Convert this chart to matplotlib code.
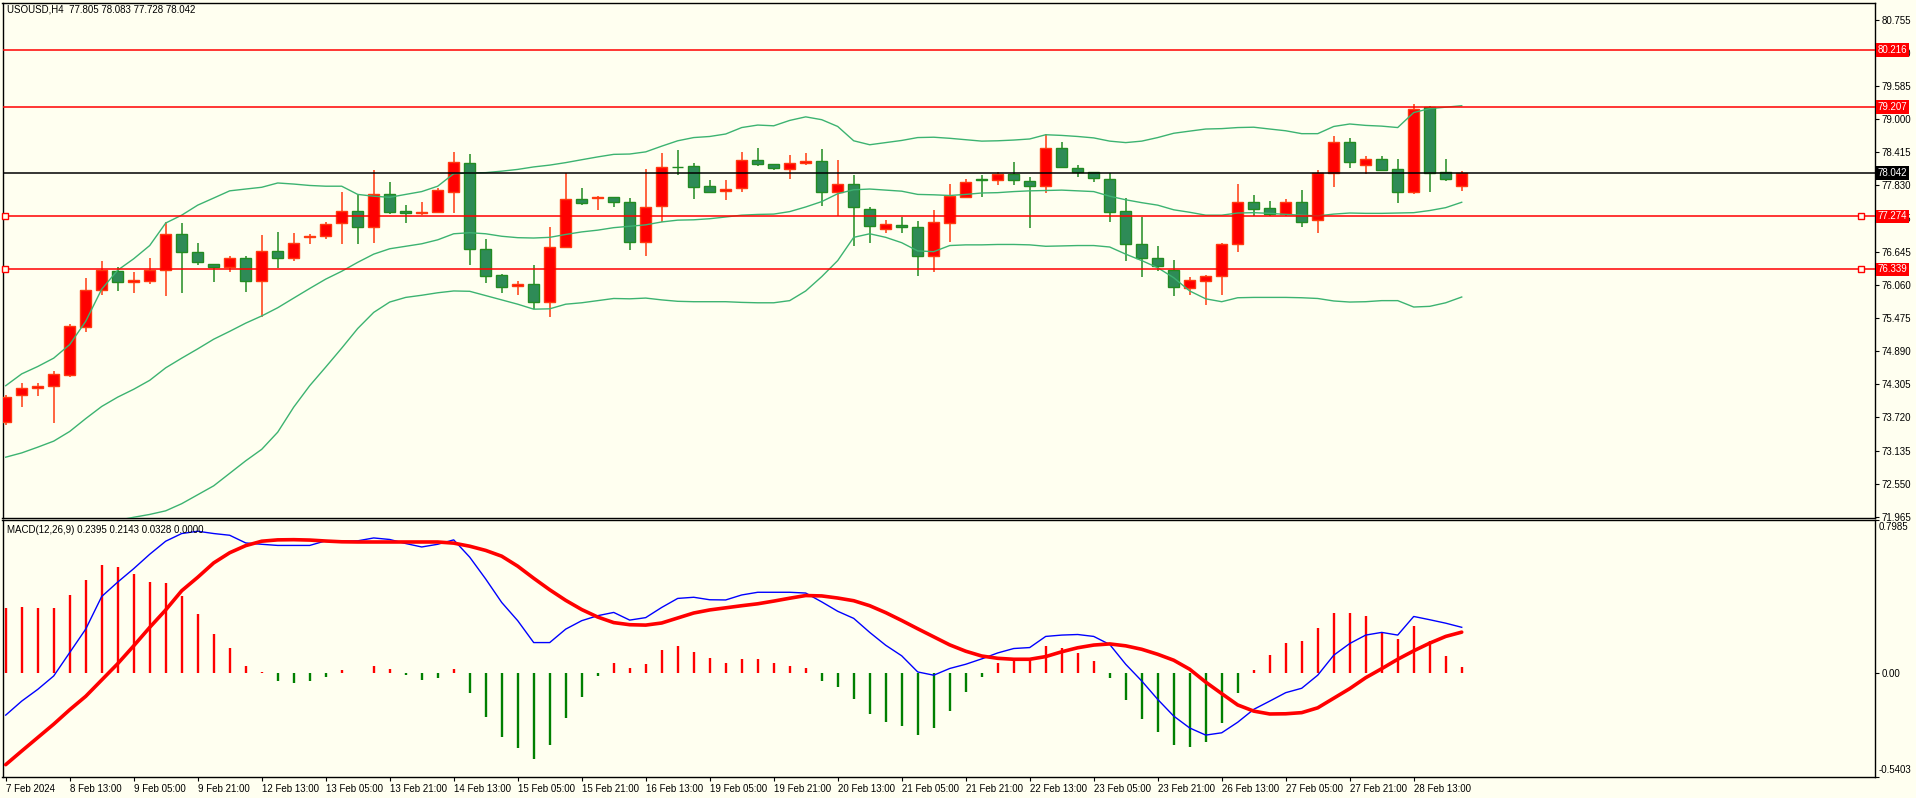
import matplotlib
matplotlib.use("Agg")
import matplotlib.pyplot as plt
import matplotlib.transforms as mtransforms
import numpy as np

plt.rcParams['font.family'] = ['Liberation Sans', 'DejaVu Sans']

# ---------------- data ----------------
opens = [73.636, 74.110, 74.237, 74.268, 74.471, 75.324, 75.969, 76.304, 76.114, 76.139,
         76.335, 76.961, 76.639, 76.430, 76.380, 76.544, 76.139, 76.658, 76.538, 76.911,
         76.923, 77.157, 77.378, 77.087, 77.663, 77.378, 77.328, 77.359, 77.713, 78.219,
         76.696, 76.240, 76.051, 76.076, 75.766, 76.734, 77.581, 77.593, 77.612, 77.524,
         76.828, 77.454, 78.156, 78.168, 77.814, 77.720, 77.777, 78.270, 78.200, 78.112,
         78.219, 78.251, 77.713, 77.846, 77.404, 77.050, 77.125, 77.087, 76.569, 77.157,
         77.618, 77.935, 77.916, 78.023, 77.897, 77.808, 78.484, 78.130, 78.055, 77.935,
         77.366, 76.778, 76.538, 76.329, 76.007, 76.133, 76.215, 76.784, 77.524, 77.423,
         77.315, 77.524, 77.208, 78.042, 78.586, 78.181, 78.289, 78.118, 77.707, 79.211,
         78.055, 77.805]
highs = [74.120, 74.332, 74.332, 74.534, 75.374, 76.190, 76.493, 76.380, 76.285, 76.544,
         77.176, 77.157, 76.809, 76.430, 76.569, 76.569, 76.948, 77.000, 76.986, 76.967,
         77.176, 77.707, 77.656, 78.093, 77.884, 77.473, 77.524, 77.777, 78.409, 78.377,
         76.873, 76.259, 76.133, 76.418, 77.087, 78.042, 77.770, 77.637, 77.612, 77.599,
         78.118, 78.390, 78.453, 78.219, 77.922, 77.922, 78.409, 78.491, 78.200, 78.358,
         78.402, 78.472, 78.270, 78.010, 77.441, 77.214, 77.271, 77.189, 77.385, 77.852,
         77.941, 78.010, 78.061, 78.232, 77.972, 78.725, 78.592, 78.187, 78.055, 78.042,
         77.593, 77.271, 76.746, 76.500, 76.203, 76.240, 76.809, 77.852, 77.656, 77.549,
         77.587, 77.745, 78.093, 78.699, 78.668, 78.345, 78.345, 78.295, 79.262, 79.230,
         78.295, 78.083]
lows = [73.585, 73.902, 74.091, 73.630, 74.439, 75.229, 75.893, 75.956, 75.912, 76.082,
        75.874, 75.912, 76.418, 76.114, 76.285, 75.943, 75.495, 76.354, 76.493, 76.778,
        76.873, 76.778, 76.778, 76.797, 77.315, 77.151, 77.302, 77.328, 77.328, 76.418,
        76.101, 75.912, 75.893, 75.640, 75.501, 76.734, 77.479, 77.391, 77.441, 76.683,
        76.575, 77.176, 77.998, 77.587, 77.694, 77.568, 77.713, 78.168, 78.086, 77.928,
        78.181, 77.460, 77.277, 76.759, 76.797, 76.986, 76.986, 76.228, 76.291, 76.822,
        77.618, 77.625, 77.821, 77.821, 77.062, 77.694, 78.149, 77.979, 77.878, 77.170,
        76.493, 76.209, 76.304, 75.868, 75.893, 75.716, 75.893, 76.645, 77.283, 77.290,
        77.277, 77.081, 76.974, 77.789, 78.124, 78.017, 78.086, 77.505, 77.663, 77.713,
        77.897, 77.728]
closes = [74.079, 74.237, 74.268, 74.483, 75.337, 75.969, 76.335, 76.114, 76.146, 76.335,
          76.961, 76.639, 76.474, 76.380, 76.544, 76.139, 76.658, 76.538, 76.803, 76.936,
          77.138, 77.378, 77.087, 77.663, 77.359, 77.328, 77.347, 77.739, 78.232, 76.696,
          76.228, 76.032, 76.082, 75.754, 76.734, 77.581, 77.505, 77.618, 77.524, 76.828,
          77.441, 78.149, 78.143, 77.802, 77.713, 77.758, 78.270, 78.194, 78.124, 78.219,
          78.251, 77.713, 77.846, 77.441, 77.100, 77.138, 77.087, 76.569, 77.176, 77.631,
          77.878, 77.909, 78.023, 77.909, 77.808, 78.484, 78.149, 78.067, 77.953, 77.359,
          76.778, 76.531, 76.405, 76.026, 76.146, 76.215, 76.784, 77.524, 77.404, 77.315,
          77.524, 77.182, 78.042, 78.586, 78.232, 78.289, 78.086, 77.713, 79.180, 78.036,
          77.928, 78.042]

bb_upper = [74.281, 74.490, 74.620, 74.768, 75.008, 75.419, 75.988, 76.323, 76.525, 76.759,
            77.157, 77.296, 77.473, 77.599, 77.726, 77.758, 77.789, 77.865, 77.846, 77.821,
            77.808, 77.808, 77.663, 77.631, 77.612, 77.663, 77.713, 77.808, 78.029, 78.042,
            78.048, 78.074, 78.105, 78.149, 78.181, 78.225, 78.276, 78.326, 78.371, 78.377,
            78.415, 78.516, 78.611, 78.668, 78.687, 78.731, 78.845, 78.889, 78.876, 78.971,
            79.034, 78.984, 78.864, 78.611, 78.541, 78.579, 78.617, 78.668, 78.674, 78.655,
            78.630, 78.605, 78.611, 78.624, 78.643, 78.718, 78.706, 78.687, 78.662, 78.605,
            78.579, 78.605, 78.668, 78.744, 78.782, 78.819, 78.826, 78.845, 78.851, 78.819,
            78.788, 78.737, 78.737, 78.864, 78.908, 78.883, 78.870, 78.845, 79.110, 79.180,
            79.205, 79.231]
bb_middle = [73.017, 73.093, 73.194, 73.301, 73.472, 73.699, 73.914, 74.079, 74.218, 74.376,
             74.597, 74.768, 74.932, 75.103, 75.242, 75.387, 75.514, 75.659, 75.830, 76.000,
             76.165, 76.304, 76.462, 76.607, 76.702, 76.746, 76.790, 76.860, 76.967, 76.986,
             76.967, 76.923, 76.898, 76.892, 76.904, 76.955, 77.000, 77.031, 77.075, 77.100,
             77.125, 77.176, 77.208, 77.214, 77.233, 77.264, 77.296, 77.309, 77.315, 77.359,
             77.441, 77.536, 77.675, 77.745, 77.758, 77.739, 77.720, 77.663, 77.656, 77.644,
             77.663, 77.688, 77.694, 77.713, 77.726, 77.732, 77.739, 77.726, 77.713, 77.631,
             77.568, 77.517, 77.473, 77.391, 77.347, 77.296, 77.296, 77.334, 77.340, 77.328,
             77.309, 77.296, 77.283, 77.315, 77.334, 77.328, 77.328, 77.334, 77.340, 77.378,
             77.429, 77.524]
nan = float('nan')
bb_lower = [nan, nan, nan, nan, nan, nan, nan, 71.900, 71.955, 72.005,
            72.069, 72.195, 72.353, 72.511, 72.732, 72.953, 73.156, 73.459, 73.902, 74.281,
            74.610, 74.945, 75.292, 75.577, 75.760, 75.842, 75.880, 75.924, 75.956, 75.950,
            75.874, 75.798, 75.722, 75.634, 75.640, 75.722, 75.747, 75.785, 75.823, 75.817,
            75.830, 75.798, 75.773, 75.766, 75.766, 75.766, 75.754, 75.747, 75.747, 75.785,
            75.956, 76.209, 76.493, 76.904, 76.967, 76.904, 76.809, 76.664, 76.651, 76.759,
            76.771, 76.771, 76.778, 76.778, 76.771, 76.746, 76.752, 76.759, 76.759, 76.733,
            76.607, 76.493, 76.367, 76.190, 75.956, 75.817, 75.766, 75.836, 75.842, 75.842,
            75.842, 75.836, 75.823, 75.779, 75.760, 75.766, 75.785, 75.785, 75.672, 75.684,
            75.747, 75.849]

macd_hist = [0.340, 0.343, 0.340, 0.340, 0.408, 0.487, 0.562, 0.553, 0.518, 0.478,
             0.471, 0.404, 0.308, 0.204, 0.131, 0.037, 0.005, -0.040, -0.051, -0.040,
             -0.019, 0.016, 0.003, 0.038, 0.021, -0.009, -0.035, -0.024, 0.021, -0.105,
             -0.228, -0.333, -0.390, -0.448, -0.375, -0.235, -0.124, -0.014, 0.052, 0.028,
             0.047, 0.120, 0.141, 0.110, 0.080, 0.052, 0.073, 0.073, 0.052, 0.037,
             0.026, -0.040, -0.071, -0.134, -0.213, -0.254, -0.275, -0.322, -0.286, -0.197,
             -0.098, -0.019, 0.052, 0.068, 0.082, 0.141, 0.131, 0.105, 0.063, -0.023,
             -0.139, -0.239, -0.307, -0.375, -0.385, -0.359, -0.260, -0.103, 0.017, 0.094,
             0.157, 0.167, 0.235, 0.314, 0.314, 0.298, 0.213, 0.180, 0.246, 0.167,
             0.089, 0.0328]
macd_main = [-0.218, -0.145, -0.084, -0.014, 0.108, 0.230, 0.400, 0.475, 0.545, 0.620,
             0.688, 0.728, 0.740, 0.728, 0.719, 0.679, 0.672, 0.666, 0.666, 0.666,
             0.690, 0.688, 0.690, 0.705, 0.697, 0.676, 0.658, 0.672, 0.695, 0.605,
             0.491, 0.369, 0.274, 0.160, 0.160, 0.230, 0.274, 0.300, 0.317, 0.277,
             0.290, 0.343, 0.390, 0.396, 0.383, 0.382, 0.408, 0.422, 0.422, 0.422,
             0.418, 0.372, 0.323, 0.286, 0.213, 0.146, 0.091, 0.007, -0.010, 0.025,
             0.047, 0.075, 0.106, 0.129, 0.134, 0.192, 0.199, 0.202, 0.192, 0.150,
             0.047, -0.040, -0.136, -0.223, -0.285, -0.322, -0.310, -0.255, -0.188, -0.145,
             -0.101, -0.078, -0.010, 0.094, 0.155, 0.199, 0.213, 0.199, 0.296, 0.279,
             0.261, 0.2395]
macd_signal = [-0.476, -0.405, -0.335, -0.265, -0.190, -0.120, -0.035, 0.050, 0.143, 0.239,
               0.330, 0.430, 0.500, 0.575, 0.628, 0.665, 0.688, 0.695, 0.696, 0.694,
               0.689, 0.685, 0.684, 0.684, 0.684, 0.684, 0.684, 0.684, 0.678, 0.662,
               0.640, 0.610, 0.558, 0.495, 0.435, 0.380, 0.332, 0.293, 0.264, 0.253,
               0.251, 0.262, 0.288, 0.314, 0.330, 0.341, 0.352, 0.362, 0.376, 0.391,
               0.405, 0.403, 0.392, 0.378, 0.352, 0.316, 0.275, 0.232, 0.190, 0.148,
               0.115, 0.090, 0.078, 0.073, 0.073, 0.087, 0.112, 0.133, 0.147, 0.153,
               0.143, 0.125, 0.099, 0.068, 0.021, -0.046, -0.106, -0.165, -0.197, -0.212,
               -0.211, -0.205, -0.180, -0.130, -0.080, -0.023, 0.024, 0.073, 0.117, 0.157,
               0.192, 0.2143]

time_labels = ["7 Feb 2024", "8 Feb 13:00", "9 Feb 05:00", "9 Feb 21:00", "12 Feb 13:00",
               "13 Feb 05:00", "13 Feb 21:00", "14 Feb 13:00", "15 Feb 05:00", "15 Feb 21:00",
               "16 Feb 13:00", "19 Feb 05:00", "19 Feb 21:00", "20 Feb 13:00", "21 Feb 05:00",
               "21 Feb 21:00", "22 Feb 13:00", "23 Feb 05:00", "23 Feb 21:00", "26 Feb 13:00",
               "27 Feb 05:00", "27 Feb 21:00", "28 Feb 13:00"]
label_step = 4

price_ticks = [80.755, 80.170, 79.585, 79.000, 78.415, 77.830, 77.245, 76.645, 76.060,
               75.475, 74.890, 74.305, 73.720, 73.135, 72.550, 71.965]
price_tick_labels = ["80.755", "80.170", "79.585", "79.000", "78.415", "77.830", "77.245",
                     "76.645", "76.060", "75.475", "74.890", "74.305", "73.720", "73.135",
                     "72.550", "71.965"]

level_prices = [80.216, 79.207, 77.274, 76.339]
level_labels = ["80.216", "79.207", "77.274", "76.339"]
level_marked = [False, False, True, True]
current_price = 78.042

title_text = "USOUSD,H4  77.805 78.083 77.728 78.042"
macd_text = "MACD(12,26,9) 0.2395 0.2143 0.0328 0.0000"
macd_max, macd_min = 0.7985, -0.5403

# ---------------- styling ----------------
W, H = 1916, 798
BG = '#FFFFF0'
UP_FILL, UP_EDGE = '#FF0000', '#FF3A10'
DN_FILL, DN_EDGE = '#2E8B57', '#228B22'
BB_COL = '#3CB371'
FS = 7

fig = plt.figure(figsize=(W / 100, H / 100), dpi=100)
fig.patch.set_facecolor(BG)

def fx(px):
    return px / W

ax = fig.add_axes([fx(2.5), 1 - 518 / H, fx(1875 - 2.5), (518 - 3) / H])
axm = fig.add_axes([fx(2.5), 1 - 777 / H, fx(1875 - 2.5), (777 - 520) / H])

for a in (ax, axm):
    a.set_facecolor(BG)
    for s in a.spines.values():
        s.set_color('black')
        s.set_linewidth(1.0)
    a.set_xlim(-0.2, 116.83)

n = len(opens)
xs = np.arange(n)
o = np.array(opens); c = np.array(closes); hi = np.array(highs); lo = np.array(lows)
up = c > o

# wicks
ax.vlines(xs[up], lo[up], hi[up], colors=UP_EDGE, linewidth=1.1, zorder=2)
ax.vlines(xs[~up], lo[~up], hi[~up], colors=DN_EDGE, linewidth=1.1, zorder=2)
# bodies
ax.bar(xs[up], (c - o)[up], bottom=o[up], width=0.66, color=UP_FILL,
       edgecolor=UP_EDGE, linewidth=1.0, zorder=3)
ax.bar(xs[~up], (c - o)[~up], bottom=o[~up], width=0.66, color=DN_FILL,
       edgecolor=DN_EDGE, linewidth=1.0, zorder=3)

# Bollinger bands
ax.plot(xs, bb_upper, color=BB_COL, lw=1.0, zorder=4)
ax.plot(xs, bb_middle, color=BB_COL, lw=1.0, zorder=4)
ax.plot(xs, bb_lower, color=BB_COL, lw=1.0, zorder=4)

ax.set_ylim(71.942, 81.047)

# horizontal levels
blend = mtransforms.blended_transform_factory(ax.transAxes, ax.transData)
for p, lab, mk in zip(level_prices, level_labels, level_marked):
    ax.axhline(p, color='#FF0000', lw=1.1, zorder=5)
    ax.text(1.0015, p, lab, transform=blend, color='white', fontsize=FS,
            va='center', ha='left', clip_on=False, zorder=10,
            bbox=dict(boxstyle='square,pad=0.18', fc='#FF0000', ec='none'))
    if mk:
        ax.plot([0.0015, 0.9925], [p, p], transform=blend, ls='none', marker='s',
                ms=4, mfc=BG, mec='#FF0000', mew=1.0, zorder=6, clip_on=False)
ax.axhline(current_price, color='black', lw=1.1, zorder=5)
ax.text(1.0015, current_price, f"{current_price:.3f}", transform=blend, color='white',
        fontsize=FS, va='center', ha='left', clip_on=False, zorder=10,
        bbox=dict(boxstyle='square,pad=0.18', fc='black', ec='none'))

ax.yaxis.tick_right()
ax.set_yticks(price_ticks)
ax.set_yticklabels(price_tick_labels)
ax.tick_params(axis='y', direction='out', length=3, width=0.8, pad=1.5,
               labelsize=FS, colors='black')
ax.set_xticks([])

# ---------------- MACD panel ----------------
hist = np.array(macd_hist)
pos = hist >= 0
axm.vlines(xs[pos], 0, hist[pos], colors='#FF0000', linewidth=1.7, zorder=2)
axm.vlines(xs[~pos], 0, hist[~pos], colors='#008000', linewidth=1.7, zorder=2)
axm.plot(xs, macd_main, color='#0000FF', lw=1.0, zorder=3)
axm.plot(xs, macd_signal, color='#FF0000', lw=2.6, zorder=4, solid_capstyle='round')
axm.set_ylim(macd_min, macd_max)

axm.yaxis.tick_right()
axm.set_yticks([macd_min, 0.0, macd_max])
axm.set_yticklabels(['', '0.00', ''])
axm.tick_params(axis='y', direction='out', length=3, width=0.8, pad=1.5,
                labelsize=FS, colors='black')
mblend = mtransforms.blended_transform_factory(axm.transAxes, axm.transData)
axm.text(1.002, macd_max - 0.012, f"{macd_max:.4f}", transform=mblend, fontsize=FS,
         va='top', ha='left', clip_on=False)
axm.text(1.002, macd_min + 0.012, f"{macd_min:.4f}", transform=mblend, fontsize=FS,
         va='bottom', ha='left', clip_on=False)

axm.set_xticks(np.arange(len(time_labels)) * label_step)
axm.set_xticklabels(time_labels, ha='left')
axm.tick_params(axis='x', direction='out', length=3, width=0.8, pad=2,
                labelsize=FS, colors='black')

# header texts
fig.text(fx(7), 1 - 10 / H, title_text, fontsize=FS, va='center', ha='left')
fig.text(fx(7), 1 - 530 / H, macd_text, fontsize=FS, va='center', ha='left')

fig.savefig('out.png', dpi=100, facecolor=BG)
